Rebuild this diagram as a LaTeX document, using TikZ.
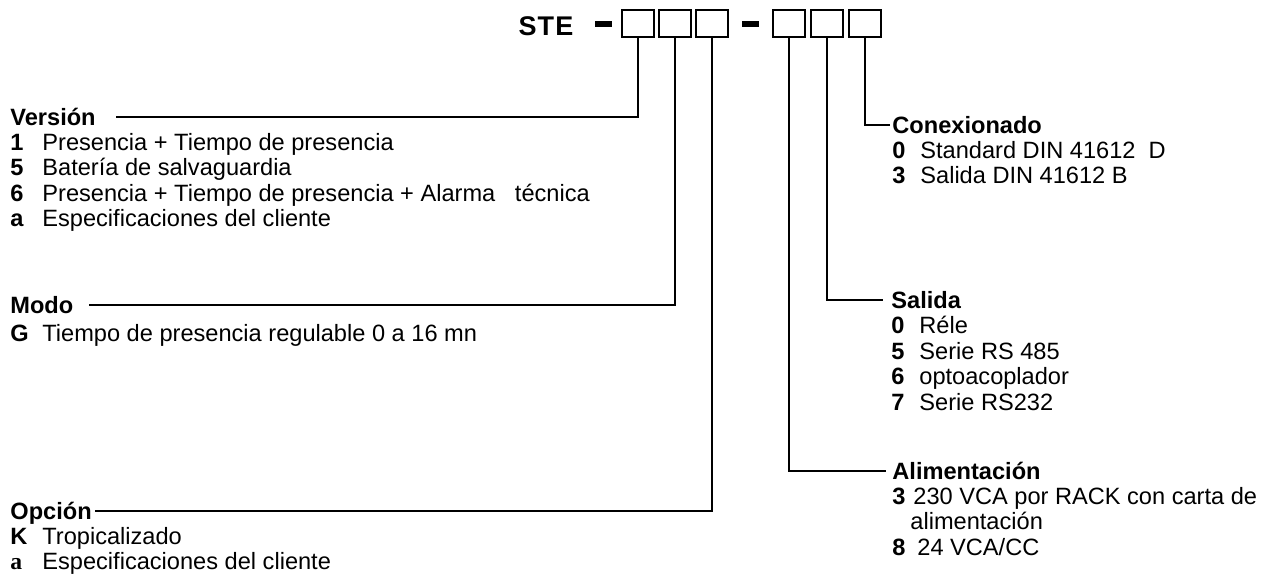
\documentclass[tikz,border=0pt]{standalone}
\usepackage{fontspec}
\setmainfont{Liberation Sans}
\newfontfamily\timesfont{Liberation Serif}
\usetikzlibrary{positioning}
\setlength{\lineskiplimit}{-20pt}
\newcommand{\code}[3][16pt]{\makebox[#1][l]{\textbf{#2}}#3}
\tikzset{
  digit/.style={draw,line width=1pt,minimum width=16pt,minimum height=13.5pt,inner sep=0pt},
  hyphen/.style={fill,minimum width=8.5pt,minimum height=3pt,inner sep=0pt},
  head/.style={font=\fontsize{11.8}{11.8}\selectfont\bfseries,inner sep=0pt,
    text height=8.5pt,text depth=0pt,anchor=base west},
  codes/.style={font=\fontsize{11.8}{12.75}\selectfont,inner sep=0pt,anchor=north west,
    align=left,execute at begin node=\rule{0pt}{10pt}},
  link/.style={line width=1.2pt}
}

\begin{document}
\begin{tikzpicture}[x=.5pt,y=-.5pt]
  \useasboundingbox (0,0) rectangle (1276,577);
  % reference code
  \node[font=\fontsize{13.5}{13.5}\selectfont\bfseries\addfontfeature{LetterSpace=4},
    inner sep=0pt] (ste) at (546,26.5) {STE};
  \node[hyphen] (hy1) at (603.5,24) {};
  \node[hyphen] (hy2) at (750,24) {};
  \foreach \i/\x in {1/638,2/675,3/712,4/789,5/827,6/865}
    \node[digit] (b\i) at (\x,23.5) {};
  % left side
  \node[head] (version) at (10,125.5) {Versión};
  \node[below=3.5pt of version.south west,codes] (versionlist) {%
    \code{1}{Presencia + Tiempo de presencia}\\
    \code{5}{Batería de salvaguardia}\\
    \code{6}{Presencia + Tiempo de presencia + Alarma \ \ técnica}\\
    \code{a}{Especificaciones del cliente}};
  \node[head] (modo) at (10,313.5) {Modo};
  \node[below=3.5pt of modo.south west,codes] (modolist) {%
    \code{G}{Tiempo de presencia regulable 0 a 16 mn}};
  \node[head] (opcion) at (10,519.5) {Opción};
  \node[below=3.5pt of opcion.south west,codes] (opcionlist) {%
    \code{K}{Tropicalizado}\\
    \makebox[16pt][l]{\timesfont\bfseries a}Especificaciones del cliente};
  % right side
  \node[head] (conex) at (892,133.5) {Conexionado};
  \node[below=3.5pt of conex.south west,codes] (conexlist) {%
    \code[14pt]{0}{Standard DIN 41612 \ D}\\
    \code[14pt]{3}{Salida DIN 41612 B}};
  \node[head] (salida) at (891,308.5) {Salida};
  \node[below=3.5pt of salida.south west,codes] (salidalist) {%
    \code[14pt]{0}{Réle}\\
    \code[14pt]{5}{Serie RS 485}\\
    \code[14pt]{6}{optoacoplador}\\
    \code[14pt]{7}{Serie RS232}};
  \node[head] (alim) at (892,479.5) {Alimentación};
  \node[below=3.5pt of alim.south west,codes] (alimlist) {%
    \code[10.5pt]{3}{230 VCA por RACK con carta de}\\
    \code[9pt]{}{alimentación}\\
    \code[10.5pt]{8}{\hspace{2pt}24 VCA/CC}};
  % connectors
  \draw[link] (b1.south) |- ([xshift=10pt]version.east);
  \draw[link] (b2.south) |- ([xshift=7.5pt]modo.east);
  \draw[link] (b3.south) |- ([xshift=1.5pt]opcion.east);
  \draw[link] (b4.south) |- ([xshift=-3pt]alim.west);
  \draw[link] (b5.south) |- ([xshift=-4pt]salida.west);
  \draw[link] (b6.south) |- ([xshift=-1pt]conex.west);
\end{tikzpicture}
\end{document}
